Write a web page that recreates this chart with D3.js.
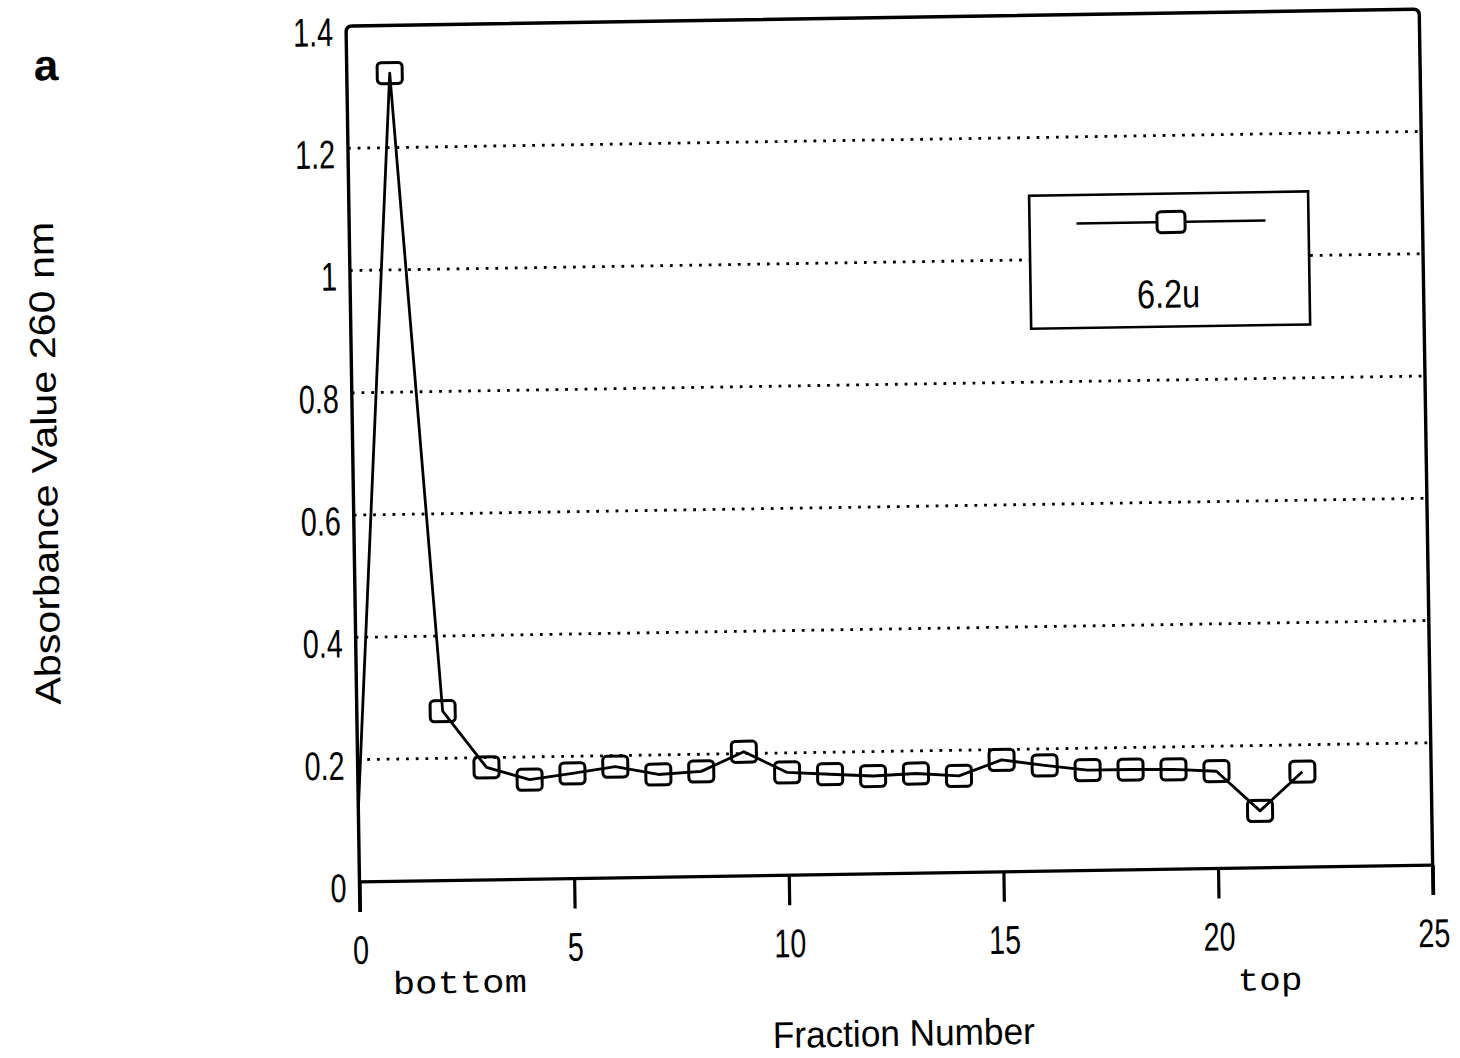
<!DOCTYPE html>
<html><head><meta charset="utf-8">
<script src="https://cdn.jsdelivr.net/npm/d3@7"></script>
<style>body{margin:0;background:#fff}svg{display:block}</style>
</head><body>
<svg id="c" width="1460" height="1058"></svg>
<script>
// ---- data ----
const fractions = [0,1,2,3,4,5,6,7,8,9,10,11,12,13,14,15,16,17,18,19,20,21,22];
const absorbance = [0.118,1.322,0.277,0.184,0.163,0.172,0.182,0.168,0.172,0.203,0.168,0.164,0.160,0.163,0.158,0.183,0.173,0.164,0.164,0.163,0.159,0.093,0.156];
const xTickValues = [0,5,10,15,20,25];
const yTickValues = [0,0.2,0.4,0.6,0.8,1.0,1.2,1.4];
const yTickLabels = ["0","0.2","0.4","0.6","0.8","1","1.2","1.4"];
const gridValues = [0.2,0.4,0.6,0.8,1.0,1.2];
const seriesName = "6.2u";
const xTitle = "Fraction Number";
const yTitle = "Absorbance Value 260 nm";
const endLabels = ["bottom","top"];
const panelLabel = "a";

// ---- drawing ----
const svg = d3.select("#c");
svg.append("rect").attr("width",1460).attr("height",1058).attr("fill","#fff");
const g = svg.append("g").attr("transform","rotate(-0.9,892,446)");

const x = d3.scaleLinear().domain([0,25]).range([352.7,1426]);
const y = d3.scaleLinear().domain([0,1.4]).range([873.5,17.5]);
const X0 = x(0), X1 = x(25), T = y(1.4), B = y(0);
const numFont = "'Liberation Sans', Arial, sans-serif";

// grid
g.append("g").selectAll("line").data(gridValues).join("line")
  .attr("x1",X0).attr("x2",X1).attr("y1",d=>y(d)).attr("y2",d=>y(d))
  .attr("stroke","#000").attr("stroke-width",2.8).attr("stroke-dasharray","2.8 6.9");

// legend box (covers grid)
const lg = g.append("g");
lg.append("rect").attr("x",1033).attr("y",198).attr("width",279).attr("height",133)
  .attr("fill","#fff").attr("stroke","#000").attr("stroke-width",2.6);
lg.append("line").attr("x1",1080).attr("x2",1269).attr("y1",226.4).attr("y2",226.4)
  .attr("stroke","#000").attr("stroke-width",2.4);
lg.append("rect").attr("x",1174.5-14).attr("y",226.4-10.5).attr("width",28).attr("height",21).attr("rx",4)
  .attr("fill","#fff").attr("stroke","#000").attr("stroke-width",3);
lg.append("text").attr("x",1171).attr("y",312).attr("text-anchor","middle")
  .attr("font-family",numFont).attr("font-size",40).attr("textLength",63).attr("lengthAdjust","spacingAndGlyphs")
  .text(seriesName);

// frame
const r = 6;
g.append("path")
  .attr("d",`M${X0},${B+30} L${X0},${T+r} Q${X0},${T} ${X0+r},${T} L${X1-r},${T} Q${X1},${T} ${X1},${T+r} L${X1},${B+30}`)
  .attr("fill","none").attr("stroke","#000").attr("stroke-width",3.4);
g.append("line").attr("x1",X0).attr("x2",X1).attr("y1",B).attr("y2",B)
  .attr("stroke","#000").attr("stroke-width",3.2);

// x axis
const xa = g.append("g").attr("transform",`translate(0,${B})`)
  .call(d3.axisBottom(x).tickValues(xTickValues).tickSize(30).tickSizeOuter(0).tickFormat(d3.format("d")));
xa.select(".domain").remove();
xa.selectAll(".tick line").attr("stroke","#000").attr("stroke-width",3.2);
xa.selectAll(".tick text").attr("fill","#000").attr("font-family",numFont).attr("font-size",40)
  .attr("y",82).attr("dy",null).attr("transform","scale(0.72,1)");

// y axis labels
const ya = g.append("g").attr("transform",`translate(${X0},0)`)
  .call(d3.axisLeft(y).tickValues(yTickValues).tickSize(0).tickPadding(0).tickFormat((d,i)=>yTickLabels[i]));
ya.select(".domain").remove();
ya.selectAll(".tick line").remove();
ya.selectAll(".tick text").attr("fill","#000").attr("font-family",numFont).attr("font-size",40)
  .attr("x",-13/0.72).attr("y",19.3).attr("dy",null).attr("transform","scale(0.72,1)");

// data
const pts = fractions.map((f,i)=>({f, v:absorbance[i]}));
g.append("path").datum(pts)
  .attr("d",d3.line().x(d=>x(d.f)).y(d=>y(d.v)))
  .attr("fill","none").attr("stroke","#000").attr("stroke-width",2.8).attr("stroke-linejoin","round");
g.append("g").selectAll("rect").data(pts.filter(d=>d.f>0)).join("rect")
  .attr("x",d=>x(d.f)-12.5).attr("y",d=>y(d.v)-10.5).attr("width",25).attr("height",21).attr("rx",4)
  .attr("fill","none").attr("stroke","#000").attr("stroke-width",3);

// titles
g.append("text").attr("x",894.5).attr("y",1046).attr("text-anchor","middle")
  .attr("font-family",numFont).attr("font-size",37).attr("textLength",262).attr("lengthAdjust","spacingAndGlyphs")
  .text(xTitle);
g.append("text").attr("transform","translate(56.7,449.9) rotate(-90)").attr("text-anchor","middle")
  .attr("font-family",numFont).attr("font-size",36).attr("textLength",483).attr("lengthAdjust","spacingAndGlyphs")
  .text(yTitle);
g.append("text").attr("x",x(2.3)).attr("y",986).attr("text-anchor","middle")
  .attr("font-family","'Liberation Mono', 'Courier New', monospace").attr("font-size",32)
  .attr("textLength",134).attr("lengthAdjust","spacingAndGlyphs").text(endLabels[0]);
g.append("text").attr("x",x(21.17)).attr("y",996).attr("text-anchor","middle")
  .attr("font-family","'Liberation Mono', 'Courier New', monospace").attr("font-size",32)
  .attr("textLength",65).attr("lengthAdjust","spacingAndGlyphs").text(endLabels[1]);
g.append("text").attr("x",52).attr("y",67).attr("text-anchor","middle")
  .attr("font-family",numFont).attr("font-weight","bold").attr("font-size",44).text(panelLabel);
</script>
</body></html>
